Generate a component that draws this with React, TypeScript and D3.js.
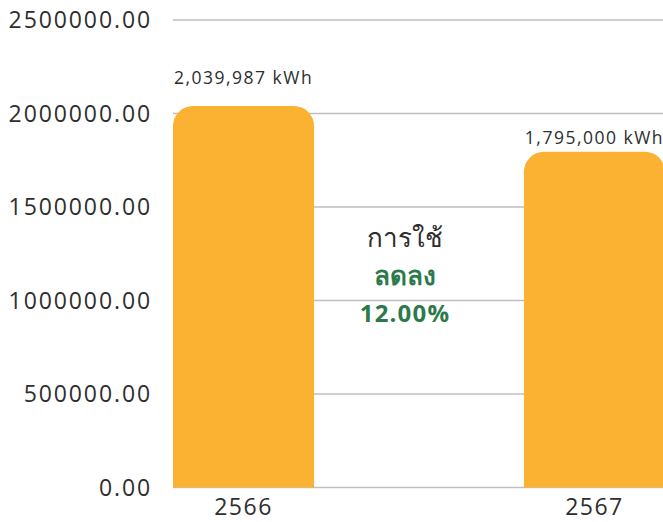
import { useEffect } from "react";
import * as d3 from "d3";

// data
const years = ["2566", "2567"];
const usage = [2039987, 1795000];
const usageLabels = ["2,039,987 kWh", "1,795,000 kWh"];
const yTicks = [0, 500000, 1000000, 1500000, 2000000, 2500000];
const noteLines = ["การใช้", "ลดลง", "12.00%"];

const W = 663;
const H = 522;
const margin = { top: 20, right: -2, bottom: 35, left: 173 };

const BAR = "#fbb232";
const GREEN = "#2b7a4b";
const TEXT = "#2e2e2e";
const GRID = "#bfbfbf";
const FONT = "'Open Sans', 'Noto Sans', 'DejaVu Sans', sans-serif";

// bar with only the top corners rounded
function topRoundedBar(x: number, y: number, w: number, h: number, r: number) {
  const rr = Math.min(r, w / 2, h);
  return `M${x},${y + h}V${y + rr}A${rr},${rr} 0 0 1 ${x + rr},${y}H${x + w - rr}A${rr},${rr} 0 0 1 ${x + w},${y + rr}V${y + h}Z`;
}

export default function App() {
  useEffect(() => {
    document.body.style.margin = "0";
  }, []);

  const innerW = W - margin.left - margin.right;
  const innerH = H - margin.top - margin.bottom;

  const x = d3.scaleBand<string>().domain(years).range([0, innerW]).paddingInner(0.598).paddingOuter(0);
  const y = d3.scaleLinear().domain([0, 2500000]).range([innerH + 0.5, 0]);

  const labelGap = [22, 8];
  const noteX = 232;
  const noteY = [227, 265, 302];

  return (
    <svg width={W} height={H} style={{ display: "block", background: "#fff" }} fontFamily={FONT}>
      <g transform={`translate(${margin.left},${margin.top})`}>
        {yTicks.map((t) => (
          <g key={t}>
            <line x1={0} x2={innerW} y1={y(t)} y2={y(t)} stroke={GRID} strokeWidth={1.3} />
            <text
              x={-21}
              y={y(t)}
              dy="0.36em"
              textAnchor="end"
              fontSize={23}
              letterSpacing={1.9}
              fill={TEXT}
            >
              {t.toFixed(2)}
            </text>
          </g>
        ))}
        {years.map((yr, i) => (
          <g key={yr}>
            <path
              d={topRoundedBar(x(yr)!, y(usage[i]), x.bandwidth(), y(0) - y(usage[i]), 20)}
              fill={BAR}
            />
            <text
              x={x(yr)! + x.bandwidth() / 2}
              y={y(usage[i]) - labelGap[i]}
              textAnchor="middle"
              fontSize={17.5}
              letterSpacing={1.5}
              fill={TEXT}
            >
              {usageLabels[i]}
            </text>
            <text
              x={x(yr)! + x.bandwidth() / 2}
              y={innerH + 28}
              textAnchor="middle"
              fontSize={23}
              letterSpacing={1.5}
              fill={TEXT}
            >
              {yr}
            </text>
          </g>
        ))}
        <text x={noteX} y={noteY[0]} textAnchor="middle" fontSize={26} fill={TEXT}>
          {noteLines[0]}
        </text>
        <text x={noteX} y={noteY[1]} textAnchor="middle" fontSize={26} fontWeight="bold" fill={GREEN}>
          {noteLines[1]}
        </text>
        <text x={noteX} y={noteY[2]} textAnchor="middle" fontSize={24} fontWeight="bold" letterSpacing={1.2} fill={GREEN}>
          {noteLines[2]}
        </text>
      </g>
    </svg>
  );
}
